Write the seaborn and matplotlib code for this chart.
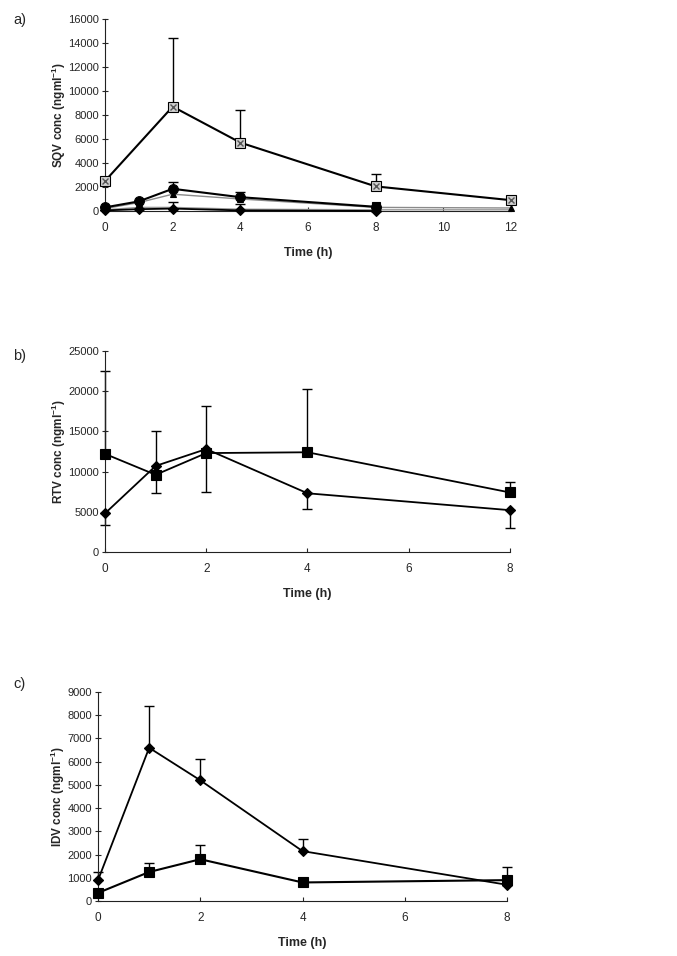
import numpy as np
import pandas as pd
import matplotlib
matplotlib.use("Agg")
import matplotlib.pyplot as plt
import seaborn as sns

sns.set_style("white")
plt.rcParams['font.family'] = ['Liberation Sans', 'DejaVu Sans']
plt.rcParams['mathtext.fontset'] = 'custom'
plt.rcParams['mathtext.rm'] = 'Liberation Sans'
plt.rcParams['mathtext.bf'] = 'Liberation Sans:bold'

# ---------------- Panel a (SQV) ----------------
a_hatch_t = [0, 2, 4, 8, 12]
a_hatch_y = [2500, 8700, 5700, 2050, 900]
a_hatch_up = [0, 5750, 2750, 1000, 150]

a_circ_t = [0, 1, 2, 4, 8]
a_circ_y = [300, 800, 1850, 1150, 350]
a_circ_up = [0, 0, 550, 400, 0]

a_tri_t = [0, 1, 2, 4, 8, 12]
a_tri_y = [200, 700, 1400, 1000, 300, 250]

a_grey_t = [0, 1, 2, 4, 8, 12]
a_grey_y = [100, 300, 300, 150, 100, 100]

a_dia_t = [0, 1, 2, 4, 8]
a_dia_y = [50, 150, 200, 50, 0]
a_dia_up = [0, 0, 550, 550, 0]

a_sq_t = [8]
a_sq_y = [400]

# ---------------- Panel b (RTV) ----------------
b_t = [0, 1, 2, 4, 8]
b_sq_y = [12200, 9600, 12300, 12400, 7400]
b_sq_lo = [0, 2300, 4800, 0, 0]
b_sq_up = [10300, 0, 0, 7900, 1300]
b_dia_y = [4800, 10700, 12800, 7300, 5200]
b_dia_lo = [1500, 0, 0, 1900, 2200]
b_dia_up = [0, 4400, 5400, 0, 0]

# ---------------- Panel c (IDV) ----------------
c_t = [0, 1, 2, 4, 8]
c_dia_y = [900, 6600, 5200, 2150, 700]
c_dia_up = [350, 1800, 900, 500, 0]
c_sq_y = [350, 1250, 1800, 800, 900]
c_sq_up = [0, 400, 600, 200, 550]

fig = plt.figure(figsize=(6.77, 9.56), dpi=100)
axa = fig.add_axes([0.1551, 0.7793, 0.5997, 0.2008])
axb = fig.add_axes([0.1551, 0.4226, 0.5982, 0.2103])
axc = fig.add_axes([0.1448, 0.0575, 0.6041, 0.2186])


def series(ax, t, y, color='black', marker='o', ms=6, lw=1.3, mfc=None, mec='black'):
    df = pd.DataFrame({'t': t, 'y': y})
    sns.lineplot(data=df, x='t', y='y', ax=ax, color=color, linewidth=lw,
                 marker=marker, markersize=ms,
                 markerfacecolor=mfc if mfc else color,
                 markeredgecolor=mec, markeredgewidth=0.8, clip_on=False,
                 zorder=3)


def errs(ax, t, y, lo, up):
    ax.errorbar(t, y, yerr=[lo, up], fmt='none', ecolor='black',
                elinewidth=1.0, capsize=3.5, capthick=1.0, clip_on=False, zorder=2)


def style(ax, xmax, ymax, ystep, ylabel, xticks, label_x):
    ax.set_xlim(0, xmax)
    ax.set_ylim(0, ymax)
    ax.set_xticks(xticks)
    ax.set_yticks(np.arange(0, ymax + 1, ystep))
    for s in ['top', 'right']:
        ax.spines[s].set_visible(False)
    for s in ['left', 'bottom']:
        ax.spines[s].set_color('#222222')
        ax.spines[s].set_linewidth(0.8)
    ax.tick_params(axis='y', direction='inout', length=5, width=0.8, labelsize=8, pad=2, left=True)
    ax.tick_params(axis='x', direction='in', length=3, width=0.8, labelsize=8.5, pad=8, bottom=True)
    ax.set_ylabel(ylabel, fontsize=8.5, fontweight='bold')
    ax.yaxis.set_label_coords(label_x, 0.5)
    ax.set_xlabel('Time (h)', fontsize=9, fontweight='bold', labelpad=9)
    ax.set_facecolor('white')


# Panel a
series(axa, a_grey_t, a_grey_y, color='#9a9a9a', marker='None', lw=1.0)
series(axa, a_tri_t, a_tri_y, color='#8a8a8a', marker='^', ms=5, lw=1.0, mfc='black')
series(axa, a_dia_t, a_dia_y, color='black', marker='D', ms=5, lw=1.3)
series(axa, a_circ_t, a_circ_y, color='black', marker='o', ms=7, lw=1.5)
series(axa, a_sq_t, a_sq_y, color='black', marker='s', ms=6)
errs(axa, a_circ_t, a_circ_y, [0] * len(a_circ_t), a_circ_up)
errs(axa, a_dia_t, a_dia_y, [0] * len(a_dia_t), a_dia_up)
errs(axa, a_hatch_t, a_hatch_y, [0] * len(a_hatch_t), a_hatch_up)
series(axa, a_hatch_t, a_hatch_y, color='black', marker='s', ms=7, lw=1.5, mfc='#d0d0d0')
axa.plot(a_hatch_t, a_hatch_y, linestyle='None', marker='x', markersize=4,
         color='#555555', markeredgewidth=1.0, clip_on=False, zorder=4)
style(axa, 12, 16000, 2000, r'SQV conc (ngml$^{\mathbf{-1}}$)', [0, 2, 4, 6, 8, 10, 12], -0.092)

# Panel b
errs(axb, b_t, b_sq_y, b_sq_lo, b_sq_up)
errs(axb, b_t, b_dia_y, b_dia_lo, b_dia_up)
series(axb, b_t, b_dia_y, color='black', marker='D', ms=5.5, lw=1.3)
series(axb, b_t, b_sq_y, color='black', marker='s', ms=6.5, lw=1.3)
style(axb, 8, 25000, 5000, r'RTV conc (ngml$^{\mathbf{-1}}$)', [0, 2, 4, 6, 8], -0.092)

# Panel c
errs(axc, c_t, c_dia_y, [0] * 5, c_dia_up)
errs(axc, c_t, c_sq_y, [0] * 5, c_sq_up)
series(axc, c_t, c_dia_y, color='black', marker='D', ms=5.5, lw=1.3)
series(axc, c_t, c_sq_y, color='black', marker='s', ms=7, lw=1.5)
style(axc, 8, 9000, 1000, r'IDV conc (ngml$^{\mathbf{-1}}$)', [0, 2, 4, 6, 8], -0.077)

fig.text(13 / 677, 1 - 20 / 956, 'a)', fontsize=10.5, va='center', ha='left')
fig.text(13 / 677, 1 - 356 / 956, 'b)', fontsize=10.5, va='center', ha='left')
fig.text(13 / 677, 1 - 684 / 956, 'c)', fontsize=10.5, va='center', ha='left')

fig.savefig('out.png', dpi=100, facecolor='white')
